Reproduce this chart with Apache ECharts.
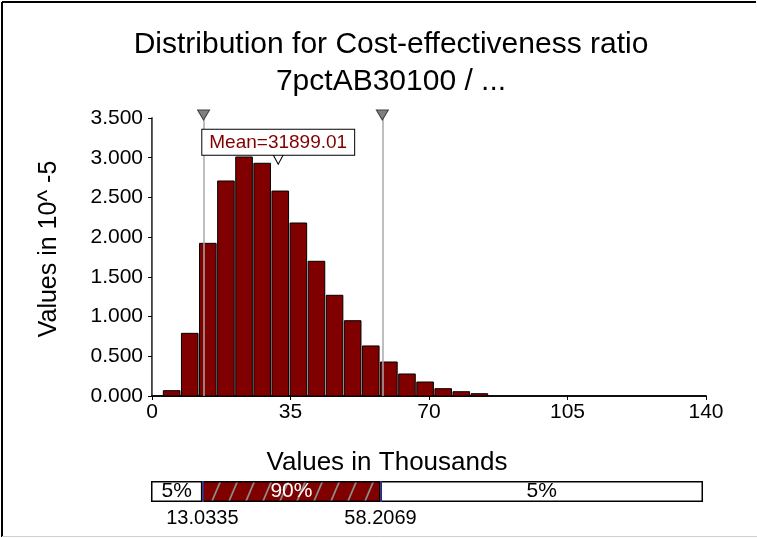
<!DOCTYPE html>
<html><head><meta charset="utf-8">
<script src="https://cdn.jsdelivr.net/npm/echarts@6/dist/echarts.min.js"></script>
<style>html,body{margin:0;padding:0;background:#fff}#c{width:757px;height:538px}</style>
</head><body><div id="c"></div>
<script>
// ---- data ----
const titleLines = ['Distribution for Cost-effectiveness ratio', '7pctAB30100 / ...'];
const xTitle = 'Values in Thousands';
const yTitle = 'Values in 10^ -5';
const binEdges = [2.67, 7.25, 11.82, 16.40, 20.97, 25.55, 30.12, 34.70, 39.27, 43.85, 48.42, 53.00, 57.57, 62.15, 66.72, 71.30, 75.87, 80.45, 85.02];
const binValues = [0.067, 0.789, 1.922, 2.707, 3.009, 2.930, 2.580, 2.178, 1.696, 1.268, 0.948, 0.630, 0.428, 0.277, 0.176, 0.092, 0.054, 0.029];
const xMin = 0, xMax = 140, xStep = 35;
const yMin = 0, yMax = 3.5, yStep = 0.5;
const meanValue = 31.89901;
const pctLeft = 13.0335, pctRight = 58.2069;
const pctLabels = ['5%', '90%', '5%'];

const FONT = "'Liberation Sans', Arial, sans-serif";
const RED = '#800000';

// hatch pattern tile for 90% segment
const tile = document.createElement('canvas');
tile.width = 17; tile.height = 40;
(function(){
  const g = tile.getContext('2d');
  g.fillStyle = RED; g.fillRect(0,0,17,40);
  g.strokeStyle = '#8c8c8c'; g.lineWidth = 1.7;
  [-17,0,17].forEach(function(dx){ g.beginPath(); g.moveTo(dx,40); g.lineTo(dx+17,0); g.stroke(); });
})();

const histData = binValues.map(function(v,i){ return [binEdges[i], binEdges[i+1], v]; });

const chart = echarts.init(document.getElementById('c'), null, {renderer:'canvas'});
chart.setOption({
  animation: false,
  backgroundColor: '#fff',
  textStyle: {fontFamily: FONT},
  title: [
    {text: titleLines.join('\n'), left: 386, top: 21, textAlign: 'center',
     textStyle: {fontSize: 30, fontWeight: 'normal', color: '#000', lineHeight: 37, fontFamily: FONT}},
    {text: xTitle, left: 382, top: 445, textAlign: 'center',
     textStyle: {fontSize: 26, fontWeight: 'normal', color: '#000', fontFamily: FONT}}
  ],
  grid: [
    {left: 152, top: 118, width: 554, height: 278},
    {left: 151, top: 481, width: 552, height: 21}
  ],
  xAxis: [
    {gridIndex: 0, type: 'value', min: xMin, max: xMax, interval: xStep,
     axisLine: {lineStyle: {color: '#000', width: 1.5}},
     axisTick: {show: true, length: 4, lineStyle: {color: '#000'}},
     axisLabel: {color: '#000', fontSize: 21, margin: 6, fontFamily: FONT},
     splitLine: {show: false}},
    {gridIndex: 0, type: 'value', position: 'top', min: xMin, max: xMax,
     axisLine: {show: true, lineStyle: {color: '#000', width: 1.5}},
     axisTick: {show: false}, axisLabel: {show: false}, splitLine: {show: false}},
    {gridIndex: 1, type: 'value', min: xMin, max: xMax,
     axisLine: {show: false}, axisTick: {show: false}, splitLine: {show: false},
     axisLabel: {show: true, customValues: [pctLeft, pctRight], color: '#000', fontSize: 20, margin: 6, fontFamily: FONT,
       formatter: function(v){ return Number(v).toFixed(4); }}}
  ],
  yAxis: [
    {gridIndex: 0, type: 'value', min: yMin, max: yMax, interval: yStep,
     name: yTitle, nameLocation: 'middle', nameGap: 90,
     nameTextStyle: {fontSize: 25, color: '#000', fontFamily: FONT, padding: [0,0,0,16]},
     axisLine: {show: true, lineStyle: {color: '#000', width: 1.5}},
     axisTick: {show: true, length: 4, lineStyle: {color: '#000'}},
     axisLabel: {color: '#000', fontSize: 21, margin: 9, fontFamily: FONT,
       formatter: function(v){ return v.toFixed(3); }},
     splitLine: {show: false}},
    {gridIndex: 0, type: 'value', position: 'right', min: yMin, max: yMax,
     axisLine: {show: true, lineStyle: {color: '#666', width: 1}},
     axisTick: {show: false}, axisLabel: {show: false}, splitLine: {show: false}},
    {gridIndex: 1, type: 'category', data: ['p'], show: false}
  ],
  series: [
    {type: 'custom', xAxisIndex: 0, yAxisIndex: 0, data: histData, encode: {x: [0,1], y: 2},
     renderItem: function(params, api){
       const p0 = api.coord([api.value(0), api.value(2)]);
       const p1 = api.coord([api.value(1), 0]);
       return {type: 'rect', shape: {x: p0[0]+0.75, y: p0[1], width: p1[0]-p0[0]-1.5, height: p1[1]-p0[1]},
               style: {fill: RED, stroke: '#000', lineWidth: 1}};
     }, z: 2},
    {type: 'scatter', xAxisIndex: 0, yAxisIndex: 0, clip: false, z: 5,
     data: [[pctLeft, yMax], [pctRight, yMax]],
     symbol: 'triangle', symbolRotate: 180, symbolSize: [12, 10], symbolOffset: [0, -3],
     itemStyle: {color: '#808080', borderColor: '#404040', borderWidth: 1, opacity: 1},
     markLine: {silent: true, symbol: 'none', label: {show: false},
       lineStyle: {color: '#a8a8a8', width: 1.5, type: 'solid'},
       data: [{xAxis: pctLeft}, {xAxis: pctRight}]}},
    {type: 'scatter', xAxisIndex: 0, yAxisIndex: 0, clip: false, z: 6,
     data: [[meanValue, 3.0]],
     symbol: 'triangle', symbolRotate: 180, symbolSize: [14, 13],
     itemStyle: {color: '#fff', borderColor: '#000', borderWidth: 1, opacity: 1},
     label: {show: true, position: 'top', distance: -4,
       formatter: function(){ return 'Mean=' + (meanValue*1000).toFixed(2); },
       color: RED, fontSize: 19, fontFamily: FONT, backgroundColor: '#fff',
       borderColor: '#000', borderWidth: 1, padding: [4, 7, 2, 7]}},
    {type: 'bar', xAxisIndex: 2, yAxisIndex: 2, stack: 'p', barWidth: '100%', data: [pctLeft],
     itemStyle: {color: '#fff', borderColor: '#000', borderWidth: 1.5},
     label: {show: true, position: 'inside', formatter: pctLabels[0], color: '#000', fontSize: 21, fontFamily: FONT}},
    {type: 'bar', xAxisIndex: 2, yAxisIndex: 2, stack: 'p', barWidth: '100%', data: [pctRight - pctLeft],
     itemStyle: {color: {image: tile, repeat: 'repeat'}, borderColor: '#000', borderWidth: 1.5},
     label: {show: true, position: 'inside', formatter: pctLabels[1], color: '#fff', fontSize: 21, fontFamily: FONT},
     markLine: {silent: true, symbol: 'none', label: {show: false},
       lineStyle: {color: '#3a3aa8', width: 1.5, type: 'solid'},
       data: [{xAxis: pctLeft}, {xAxis: pctRight}]}},
    {type: 'bar', xAxisIndex: 2, yAxisIndex: 2, stack: 'p', barWidth: '100%', data: [xMax - pctRight],
     itemStyle: {color: '#fff', borderColor: '#000', borderWidth: 1.5},
     label: {show: true, position: 'inside', formatter: pctLabels[2], color: '#000', fontSize: 21, fontFamily: FONT}}
  ],
  graphic: [
    {type: 'line', shape: {x1: 2, y1: 2, x2: 756, y2: 2}, style: {stroke: '#000', lineWidth: 2}, silent: true},
    {type: 'line', shape: {x1: 2, y1: 2, x2: 2, y2: 537}, style: {stroke: '#000', lineWidth: 2}, silent: true},
    {type: 'line', shape: {x1: 2, y1: 536.5, x2: 757, y2: 536.5}, style: {stroke: '#cfcfcf', lineWidth: 1}, silent: true}
  ]
});
</script></body></html>
